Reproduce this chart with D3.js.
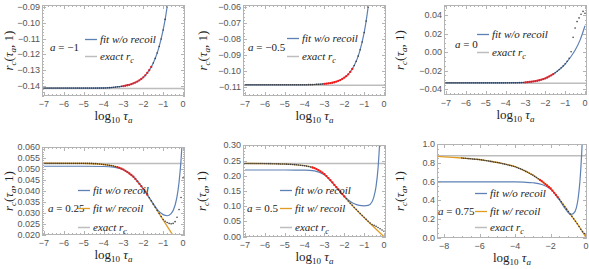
<!DOCTYPE html>
<html>
<head>
<meta charset="utf-8">
<script src="https://cdn.jsdelivr.net/npm/d3@7"></script>
<style>
  body { margin: 0; background: #fff; }
  svg { display: block; }
</style>
</head>
<body>
<svg id="chart" width="589" height="269"></svg>
<script>
// sample grid of the data points: log10 tau from -7 to 0, step 0.1
var tauGrid = d3.range(71).map(function (i) { return +(-7 + i / 10).toFixed(1); });

// ---------- a = -1 ----------
var knots1 = [-7, -6, -5, -4, -3.5, -3, -2.5, -2, -1.75, -1.5, -1.25, -1, -0.9, -0.8, -0.7];
var fitNoRecoil1 = [-0.1413, -0.1413, -0.1413, -0.1412, -0.1408, -0.1400, -0.1383, -0.1345, -0.1309, -0.1255, -0.1171, -0.1045, -0.0978, -0.0898, -0.0803];
var exact1 = -0.1416;
var dots1 = [
  -0.1413, -0.1413, -0.1413, -0.1413, -0.1413, -0.1413, -0.1413, -0.1413, -0.1413, -0.1413,
  -0.1413, -0.1413, -0.1413, -0.1413, -0.1413, -0.1413, -0.1413, -0.1413, -0.1413, -0.1413,
  -0.1413, -0.1413, -0.1413, -0.1413, -0.1413, -0.1413, -0.1413, -0.1413, -0.1413, -0.1413,
  -0.1413, -0.1412, -0.1411, -0.1410, -0.1409, -0.1408, -0.1407, -0.1405, -0.1404, -0.1402,
  -0.1400, -0.1398, -0.1395, -0.1392, -0.1388, -0.1383, -0.1378, -0.1372, -0.1364, -0.1355,
  -0.1345, -0.1332, -0.1317, -0.1300, -0.1279, -0.1254, -0.1225, -0.1191, -0.1150, -0.1102,
  -0.1045, -0.0978, -0.0898, -0.0803, -0.0692, null, null, null, null, null, null];
var red1 = [-3.0, -1.6];

// ---------- a = -0.5 ----------
var knots2 = [-7, -6, -5, -4, -3.5, -3, -2.5, -2, -1.75, -1.5, -1.25, -1, -0.9, -0.8, -0.7];
var fitNoRecoil2 = [-0.1087, -0.1087, -0.1087, -0.1087, -0.1085, -0.1081, -0.1071, -0.1042, -0.1014, -0.0966, -0.0888, -0.0760, -0.0688, -0.0600, -0.0492];
var exact2 = -0.1090;
var dots2 = [
  -0.1087, -0.1087, -0.1087, -0.1087, -0.1087, -0.1087, -0.1087, -0.1087, -0.1087, -0.1087,
  -0.1087, -0.1087, -0.1087, -0.1087, -0.1087, -0.1087, -0.1087, -0.1087, -0.1087, -0.1087,
  -0.1087, -0.1087, -0.1087, -0.1087, -0.1087, -0.1087, -0.1087, -0.1087, -0.1087, -0.1087,
  -0.1087, -0.1087, -0.1086, -0.1086, -0.1086, -0.1085, -0.1084, -0.1084, -0.1083, -0.1082,
  -0.1081, -0.1080, -0.1078, -0.1076, -0.1074, -0.1071, -0.1067, -0.1062, -0.1057, -0.1050,
  -0.1042, -0.1033, -0.1021, -0.1006, -0.0988, -0.0966, -0.0940, -0.0907, -0.0867, -0.0819,
  -0.0760, -0.0688, -0.0600, -0.0492, -0.0362, null, null, null, null, null, null];
var red2 = [-3.0, -1.6];

// ---------- a = 0 ----------
var knots3 = [-7, -5, -4, -3.5, -3, -2.5, -2, -1.5, -1, -0.75, -0.5, -0.25, 0];
var fitNoRecoil3 = [-0.0331, -0.0331, -0.0330, -0.0329, -0.0326, -0.0313, -0.0283, -0.0222, -0.0128, -0.0060, 0.0020, 0.0130, 0.0285];
var exact3 = -0.0336;
var dots3 = [
  -0.0331, -0.0331, -0.0331, -0.0331, -0.0331, -0.0331, -0.0331, -0.0331, -0.0331, -0.0331,
  -0.0331, -0.0331, -0.0331, -0.0331, -0.0331, -0.0331, -0.0331, -0.0331, -0.0331, -0.0331,
  -0.0331, -0.0331, -0.0331, -0.0331, -0.0331, -0.0331, -0.0331, -0.0331, -0.0331, -0.0331,
  -0.0331, -0.0331, -0.0331, -0.0331, -0.0331, -0.0331, -0.0330, -0.0329, -0.0328, -0.0327,
  -0.0326, -0.0324, -0.0321, -0.0319, -0.0316, -0.0313, -0.0308, -0.0303, -0.0297, -0.0290,
  -0.0283, -0.0273, -0.0262, -0.0250, -0.0237, -0.0222, -0.0205, -0.0187, -0.0168, -0.0148,
  -0.0125, -0.0098, -0.0065, 0.0005, 0.0160, 0.0260, 0.0330, 0.0370, 0.0410, 0.0440, 0.0420];
var red3 = [-3.0, -1.6];

// ---------- a = 0.25 ----------
var knots4 = [-7, -5, -4, -3.5, -3, -2.5, -2, -1.5, -1.25, -1, -0.8, -0.6, -0.4, -0.3, -0.2, -0.1, 0];
var fitNoRecoil4 = [0.0513, 0.0513, 0.0512, 0.0509, 0.0497, 0.0465, 0.0410, 0.0342, 0.0310, 0.0292, 0.0287, 0.0297, 0.0335, 0.0375, 0.0440, 0.0540, 0.0680];
var knotsR4 = [-7, -5, -4.5, -4, -3.5, -3, -2.5, -2, -1.5, -1, -0.5, -0.3];
var fitRecoil4 = [0.0527, 0.0526, 0.0524, 0.0521, 0.0514, 0.0498, 0.0465, 0.0410, 0.0340, 0.0268, 0.0196, 0.0165];
var exact4 = 0.0526;
var dots4 = [
  0.0526, 0.0526, 0.0526, 0.0526, 0.0526, 0.0526, 0.0526, 0.0526, 0.0526, 0.0526,
  0.0526, 0.0526, 0.0526, 0.0526, 0.0526, 0.0526, 0.0526, 0.0526, 0.0526, 0.0526,
  0.0526, 0.0526, 0.0526, 0.0526, 0.0526, 0.0525, 0.0525, 0.0524, 0.0523, 0.0522,
  0.0521, 0.0520, 0.0519, 0.0517, 0.0516, 0.0514, 0.0512, 0.0509, 0.0506, 0.0502,
  0.0498, 0.0492, 0.0486, 0.0480, 0.0473, 0.0465, 0.0455, 0.0444, 0.0433, 0.0422,
  0.0410, 0.0397, 0.0383, 0.0369, 0.0355, 0.0340, 0.0326, 0.0311, 0.0297, 0.0283,
  0.0270, 0.0262, 0.0256, 0.0252, 0.0250, 0.0252, 0.0260, 0.0280, 0.0315, 0.0370, 0.0460];
var red4 = [-3.3, -1.8];

// ---------- a = 0.5 ----------
var knots5 = [-7, -5, -4, -3.5, -3, -2.5, -2, -1.75, -1.5, -1.25, -1, -0.8, -0.6, -0.5, -0.4, -0.3, -0.2];
var fitNoRecoil5 = [0.2190, 0.2190, 0.2185, 0.2160, 0.2030, 0.1700, 0.1330, 0.1180, 0.1080, 0.1030, 0.1015, 0.1030, 0.1150, 0.1330, 0.1650, 0.2250, 0.3300];
var knotsR5 = [-7, -6, -5, -4.5, -4, -3.5, -3, -2.5, -2, -1.5, -1, -0.5, 0];
var fitRecoil5 = [0.2405, 0.2400, 0.2385, 0.2365, 0.2330, 0.2250, 0.2050, 0.1700, 0.1320, 0.0960, 0.0630, 0.0310, 0.0000];
var exact5 = 0.2400;
var dots5 = [
  0.2405, 0.2405, 0.2405, 0.2405, 0.2405, 0.2405, 0.2405, 0.2405, 0.2405, 0.2405,
  0.2400, 0.2399, 0.2398, 0.2397, 0.2396, 0.2394, 0.2392, 0.2390, 0.2388, 0.2386,
  0.2385, 0.2382, 0.2378, 0.2375, 0.2370, 0.2365, 0.2360, 0.2353, 0.2346, 0.2338,
  0.2330, 0.2318, 0.2305, 0.2290, 0.2272, 0.2250, 0.2220, 0.2185, 0.2145, 0.2100,
  0.2050, 0.1990, 0.1925, 0.1855, 0.1780, 0.1700, 0.1625, 0.1550, 0.1475, 0.1398,
  0.1320, 0.1245, 0.1172, 0.1100, 0.1030, 0.0960, 0.0892, 0.0825, 0.0758, 0.0693,
  0.0630, 0.0568, 0.0505, 0.0448, 0.0400, 0.0370, 0.0340, 0.0300, 0.0260, 0.0220, 0.0180];
var red5 = [-3.6, -2.0];

// ---------- a = 0.75 ----------
var knots6 = [-9, -6, -4, -3.5, -3, -2.5, -2, -1.75, -1.5, -1.25, -1, -0.85, -0.7, -0.55, -0.45, -0.35, -0.25, -0.2];
var fitNoRecoil6 = [0.598, 0.598, 0.597, 0.594, 0.588, 0.570, 0.520, 0.470, 0.405, 0.330, 0.268, 0.250, 0.262, 0.320, 0.420, 0.600, 0.900, 1.100];
var knotsR6 = [-9, -8, -7, -6, -5, -4, -3.5, -3, -2.5, -2, -1.5, -1, -0.5, 0];
var fitRecoil6 = [0.874, 0.866, 0.853, 0.836, 0.805, 0.760, 0.720, 0.670, 0.605, 0.527, 0.410, 0.280, 0.150, 0.000];
var exact6 = 0.877;
var dots6 = [
  0.853, 0.851, 0.850, 0.848, 0.846, 0.845, 0.843, 0.841, 0.840, 0.838,
  0.836, 0.833, 0.830, 0.827, 0.824, 0.821, 0.817, 0.814, 0.811, 0.808,
  0.805, 0.801, 0.797, 0.792, 0.788, 0.783, 0.779, 0.774, 0.769, 0.765,
  0.760, 0.752, 0.744, 0.737, 0.729, 0.720, 0.710, 0.700, 0.690, 0.680,
  0.670, 0.657, 0.644, 0.631, 0.618, 0.605, 0.590, 0.574, 0.559, 0.543,
  0.527, 0.504, 0.480, 0.457, 0.433, 0.410, 0.384, 0.358, 0.332, 0.306,
  0.280, 0.254, 0.228, 0.202, 0.176, 0.150, 0.120, 0.090, 0.065, 0.045, 0.030];
var red6 = [-2.6, -1.6];

// tick labels
var xLabels7 = ["−7", "−6", "−5", "−4", "−3", "−2", "−1", "0"];
var xLabels9 = ["−8", "−6", "−4", "−2", "0"];
var yLabels1 = ["−0.14", "−0.13", "−0.12", "−0.11", "−0.10", "−0.09"];
var yLabels2 = ["−0.11", "−0.10", "−0.09", "−0.08", "−0.07", "−0.06"];
var yLabels3 = ["−0.04", "−0.02", "0.00", "0.02", "0.04"];
var yLabels4 = ["0.020", "0.025", "0.030", "0.035", "0.040", "0.045", "0.050", "0.055", "0.060"];
var yLabels5 = ["0.00", "0.05", "0.10", "0.15", "0.20", "0.25", "0.30"];
var yLabels6 = ["0.0", "0.2", "0.4", "0.6", "0.8", "1.0"];
var aLabels = ["−1", "−0.5", "0", "0.25", "0.5", "0.75"];

var BLUE = "#5e81b5", ORANGE = "#e19c24", RED = "#f01818", GRAY = "#bdbdbd";

function num(s) { return +s.replace("−", "-"); }

var panels = [
    {left: 42, right: 185, top: 5, bottom: 96, xDomain: [-7.1, 0.1], yDomain: [-0.1463, -0.0887],
     xLabels: xLabels7, xMinor: 0.2, yLabels: yLabels1, yMinor: 0.002,
     knots: knots1, blue: fitNoRecoil1, exact: exact1, dots: dots1, red: red1,
     a: aLabels[0], aPos: [50, 51], leg: [100, 43, 60], titleX: 13},
    {left: 243, right: 386, top: 5, bottom: 96, xDomain: [-7.1, 0.1], yDomain: [-0.1157, -0.0587],
     xLabels: xLabels7, xMinor: 0.2, yLabels: yLabels2, yMinor: 0.002,
     knots: knots2, blue: fitNoRecoil2, exact: exact2, dots: dots2, red: red2,
     a: aLabels[1], aPos: [248, 51], leg: [302, 42, 60], titleX: 207},
    {left: 444, right: 587, top: 5, bottom: 95, xDomain: [-7.1, 0.1], yDomain: [-0.0462, 0.0509],
     xLabels: xLabels7, xMinor: 0.2, yLabels: yLabels3, yMinor: 0.005,
     knots: knots3, blue: fitNoRecoil3, exact: exact3, dots: dots3, red: red3,
     a: aLabels[2], aPos: [455, 48], leg: [492, 38, 56], titleX: 404},
    {left: 42, right: 185, top: 147, bottom: 235, xDomain: [-7.1, 0.1], yDomain: [0.0199, 0.0601],
     xLabels: xLabels7, xMinor: 0.2, yLabels: yLabels4, yMinor: 0.001,
     knots: knots4, blue: fitNoRecoil4, knotsR: knotsR4, orange: fitRecoil4, exact: exact4, dots: dots4, red: red4,
     a: aLabels[3], aPos: [48, 212], leg: [93, 194, 212, 231], titleX: 13},
    {left: 243, right: 386, top: 145, bottom: 237, xDomain: [-7.1, 0.1], yDomain: [-0.001, 0.301],
     xLabels: xLabels7, xMinor: 0.2, yLabels: yLabels5, yMinor: 0.01,
     knots: knots5, blue: fitNoRecoil5, knotsR: knotsR5, orange: fitRecoil5, exact: exact5, dots: dots5, red: red5,
     a: aLabels[4], aPos: [247, 212], leg: [295, 194, 212, 231], titleX: 206},
    {left: 437, right: 587, top: 144, bottom: 238, xDomain: [-8.4, 0.05], yDomain: [-0.003, 1.003],
     xLabels: xLabels9, xMinor: 0.5, yLabels: yLabels6, yMinor: 0.05,
     knots: knots6, blue: fitNoRecoil6, knotsR: knotsR6, orange: fitRecoil6, exact: exact6, dots: dots6, red: red6,
     a: aLabels[5], aPos: [438, 215], leg: [490, 197, 215, 231], titleX: 404}
];

var svg = d3.select("#chart");
var defs = svg.append("defs");

panels.forEach(function (p, pi) {
    var x = d3.scaleLinear().domain(p.xDomain).range([p.left, p.right]);
    var y = d3.scaleLinear().domain(p.yDomain).range([p.bottom, p.top]);
    var g = svg.append("g");

    defs.append("clipPath").attr("id", "clip" + pi)
        .append("rect")
        .attr("x", p.left).attr("y", p.top)
        .attr("width", p.right - p.left).attr("height", p.bottom - p.top);

    var plot = g.append("g").attr("clip-path", "url(#clip" + pi + ")");

    // exact r_c
    plot.append("line")
        .attr("x1", p.left).attr("x2", p.right)
        .attr("y1", y(p.exact)).attr("y2", y(p.exact))
        .attr("stroke", GRAY).attr("stroke-width", 1.5);

    var line = d3.line()
        .x(function (d) { return x(d[0]); })
        .y(function (d) { return y(d[1]); })
        .curve(d3.curveMonotoneX);

    if (p.orange) {
        plot.append("path")
            .datum(d3.zip(p.knotsR, p.orange))
            .attr("d", line)
            .attr("fill", "none").attr("stroke", ORANGE).attr("stroke-width", 1.3);
    }
    plot.append("path")
        .datum(d3.zip(p.knots, p.blue))
        .attr("d", line)
        .attr("fill", "none").attr("stroke", BLUE).attr("stroke-width", 1.2);

    // data points, red ones are the fitted window
    var pts = tauGrid.map(function (t, i) { return [t, p.dots[i]]; })
        .filter(function (d) { return d[1] !== null; });
    function inFit(d) { return d[0] >= p.red[0] - 1e-9 && d[0] <= p.red[1] + 1e-9; }
    plot.selectAll(".pt")
        .data(pts.filter(function (d) { return !inFit(d); }))
        .enter().append("circle")
        .attr("class", "pt")
        .attr("cx", function (d) { return x(d[0]); })
        .attr("cy", function (d) { return y(d[1]); })
        .attr("r", 0.8)
        .attr("fill", "#3c3c3c");
    plot.selectAll(".fitpt")
        .data(pts.filter(inFit))
        .enter().append("circle")
        .attr("class", "fitpt")
        .attr("cx", function (d) { return x(d[0]); })
        .attr("cy", function (d) { return y(d[1]); })
        .attr("r", 1.15)
        .attr("fill", RED);

    // frame
    g.append("rect")
        .attr("x", p.left + 0.5).attr("y", p.top + 0.5)
        .attr("width", p.right - p.left - 1).attr("height", p.bottom - p.top - 1)
        .attr("fill", "none").attr("stroke", "#b4b4b4").attr("stroke-width", 1);

    var tk = g.append("g").attr("stroke", "#b4b4b4").attr("stroke-width", 1);
    var xMajor = p.xLabels.map(num);
    var xMinor = d3.range(Math.ceil(p.xDomain[0] / p.xMinor) * p.xMinor, p.xDomain[1], p.xMinor);
    xMinor.forEach(function (v) {
        var isMajor = xMajor.some(function (m) { return Math.abs(m - v) < 1e-6; });
        var len = isMajor ? 4 : 2;
        var px = Math.round(x(v)) + 0.5;
        tk.append("line").attr("x1", px).attr("x2", px).attr("y1", p.bottom).attr("y2", p.bottom - len);
        tk.append("line").attr("x1", px).attr("x2", px).attr("y1", p.top).attr("y2", p.top + len);
    });
    var yMajor = p.yLabels.map(num);
    var yMinor = d3.range(Math.ceil(p.yDomain[0] / p.yMinor - 1e-6) * p.yMinor, p.yDomain[1], p.yMinor);
    yMinor.forEach(function (v) {
        var isMajor = yMajor.some(function (m) { return Math.abs(m - v) < p.yMinor / 10; });
        var len = isMajor ? 4 : 2;
        var py = Math.round(y(v)) + 0.5;
        tk.append("line").attr("y1", py).attr("y2", py).attr("x1", p.left).attr("x2", p.left + len);
        tk.append("line").attr("y1", py).attr("y2", py).attr("x1", p.right).attr("x2", p.right - len);
    });

    // tick labels
    g.selectAll(".xl").data(p.xLabels).enter().append("text")
        .attr("x", function (d) { return x(num(d)); })
        .attr("y", p.bottom + 10.5)
        .attr("text-anchor", "middle")
        .attr("font-family", "Liberation Sans, Arial, sans-serif")
        .attr("font-size", "9px").attr("fill", "#555")
        .text(function (d) { return d; });
    g.selectAll(".yl").data(p.yLabels).enter().append("text")
        .attr("x", p.left - 2)
        .attr("y", function (d) { return y(num(d)) + 3; })
        .attr("text-anchor", "end")
        .attr("font-family", "Liberation Sans, Arial, sans-serif")
        .attr("font-size", "9px").attr("fill", "#555")
        .text(function (d) { return d; });

    var serif = "Liberation Serif, Times New Roman, serif";

    // x axis title: log10 tau_a
    var xt = g.append("text")
        .attr("x", (p.left + p.right) / 2).attr("y", p.bottom + 24)
        .attr("text-anchor", "middle")
        .attr("font-family", serif).attr("font-size", "13px").attr("fill", "#222");
    xt.append("tspan").text("log");
    xt.append("tspan").attr("font-size", "9px").attr("dy", 3).text("10");
    xt.append("tspan").attr("dy", -3).text(" ");
    xt.append("tspan").attr("font-style", "italic").text("τ");
    xt.append("tspan").attr("font-size", "9px").attr("font-style", "italic").attr("dy", 3).text("a");

    // y axis title: r_c(tau_a, 1)
    var yt = g.append("text")
        .attr("transform", "translate(" + p.titleX + "," + ((p.top + p.bottom) / 2) + ") rotate(-90)")
        .attr("text-anchor", "middle")
        .attr("font-family", serif).attr("font-size", "13px").attr("fill", "#222");
    yt.append("tspan").attr("font-style", "italic").text("r");
    yt.append("tspan").attr("font-size", "9px").attr("font-style", "italic").attr("dy", 3).text("c");
    yt.append("tspan").attr("dy", -3).text("(");
    yt.append("tspan").attr("font-style", "italic").text("τ");
    yt.append("tspan").attr("font-size", "9px").attr("font-style", "italic").attr("dy", 3).text("a");
    yt.append("tspan").attr("dy", -3).text(", 1)");

    // a = ...
    var at = g.append("text")
        .attr("x", p.aPos[0]).attr("y", p.aPos[1])
        .attr("font-family", serif).attr("font-size", "11px").attr("fill", "#222");
    at.append("tspan").attr("font-style", "italic").text("a");
    at.append("tspan").text(" = " + p.a);

    // legend
    var rows = [{c: BLUE, t: "fit w/o recoil", y: p.leg[1]}];
    if (p.orange) rows.push({c: ORANGE, t: "fit w/ recoil", y: p.leg[2]});
    rows.push({c: GRAY, t: "exact", y: p.leg[p.leg.length - 1], exact: true});
    rows.forEach(function (r) {
        g.append("line")
            .attr("x1", p.leg[0] - 15).attr("x2", p.leg[0] - 3)
            .attr("y1", r.y - 3.5).attr("y2", r.y - 3.5)
            .attr("stroke", r.c).attr("stroke-width", r.exact ? 1.5 : 1.3);
        var t = g.append("text")
            .attr("x", p.leg[0]).attr("y", r.y)
            .attr("font-family", serif).attr("font-size", "11px")
            .attr("font-style", "italic").attr("fill", "#222");
        t.append("tspan").text(r.t);
        if (r.exact) {
            t.append("tspan").text(" r");
            t.append("tspan").attr("font-size", "8px").attr("dy", 2.5).text("c");
        }
    });
});
</script>
</body>
</html>
